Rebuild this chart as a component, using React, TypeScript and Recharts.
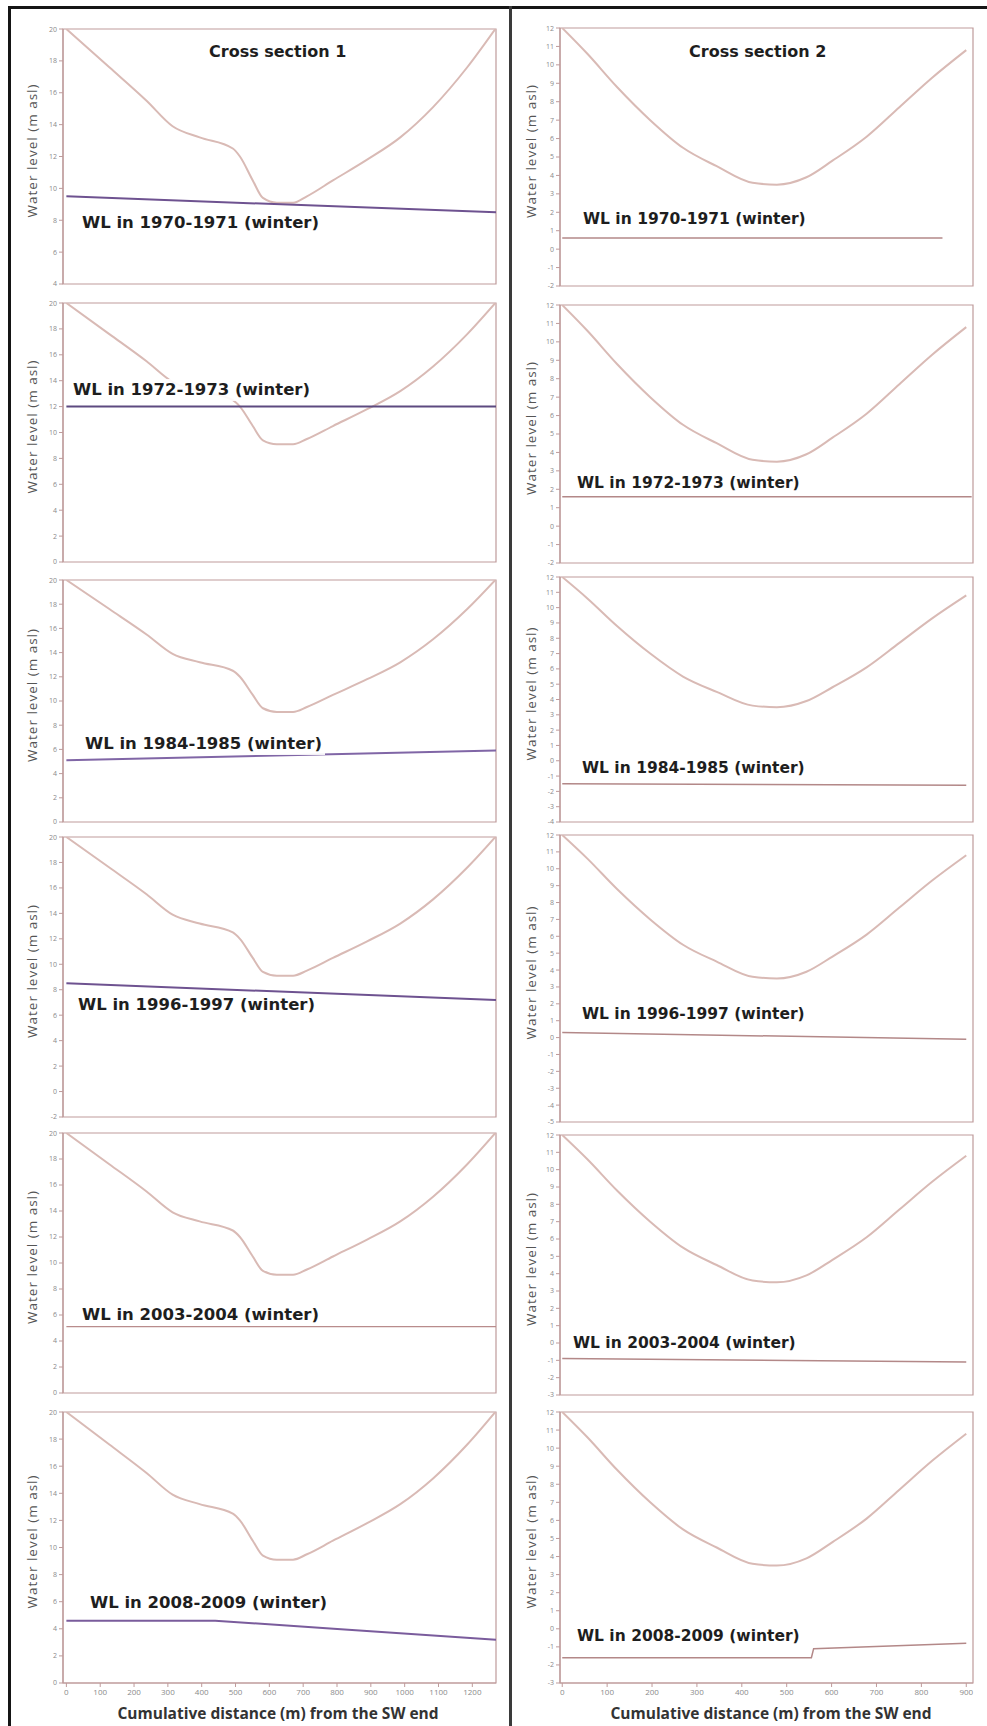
import { LineChart, Line, XAxis, YAxis, ReferenceArea } from 'recharts'

// bed profile, cross section 1 (distance in m, level in m asl)
const LEFT_DISTANCE = [0, 127, 237, 314, 394, 492, 513, 551, 581, 622, 670, 711, 788, 889, 987, 1084, 1185, 1268]
const LEFT_BED = [20, 17.6, 15.5, 13.9, 13.2, 12.5, 12.0, 10.5, 9.4, 9.1, 9.1, 9.5, 10.5, 11.8, 13.2, 15.1, 17.6, 20]

// bed profile, cross section 2
const RIGHT_DISTANCE = [0, 56, 122, 196, 269, 344, 424, 478, 544, 602, 678, 751, 824, 900]
const RIGHT_BED = [12, 10.6, 8.8, 7.0, 5.5, 4.5, 3.6, 3.5, 3.9, 4.8, 6.1, 7.7, 9.3, 10.8]

const SEASONS = ['1970-1971', '1972-1973', '1984-1985', '1996-1997', '2003-2004', '2008-2009']

// winter water level lines, one per season
const LEFT_WL_DISTANCE = [[0, 1270], [0, 1270], [0, 1270], [0, 1270], [0, 1270], [0, 440, 790, 1270]]
const LEFT_WL = [[9.5, 8.5], [12, 12], [5.1, 5.9], [8.5, 7.2], [5.1, 5.1], [4.6, 4.6, 4.0, 3.2]]
const RIGHT_WL_DISTANCE = [[0, 847], [0, 912], [0, 900], [0, 900], [0, 900], [0, 555, 560, 900]]
const RIGHT_WL = [[0.6, 0.6], [1.6, 1.6], [-1.5, -1.6], [0.3, -0.1], [-0.9, -1.1], [-1.6, -1.6, -1.1, -0.8]]

const LEFT_X_TICKS = [0, 100, 200, 300, 400, 500, 600, 700, 800, 900, 1000, 1100, 1200]
const RIGHT_X_TICKS = [0, 100, 200, 300, 400, 500, 600, 700, 800, 900]

const Y_4_20 = [4, 6, 8, 10, 12, 14, 16, 18, 20]
const Y_0_20 = [0, 2, 4, 6, 8, 10, 12, 14, 16, 18, 20]
const Y_M2_20 = [-2, 0, 2, 4, 6, 8, 10, 12, 14, 16, 18, 20]
const Y_M2_12 = [-2, -1, 0, 1, 2, 3, 4, 5, 6, 7, 8, 9, 10, 11, 12]
const Y_M4_12 = [-4, -3, -2, -1, 0, 1, 2, 3, 4, 5, 6, 7, 8, 9, 10, 11, 12]
const Y_M5_12 = [-5, -4, -3, -2, -1, 0, 1, 2, 3, 4, 5, 6, 7, 8, 9, 10, 11, 12]
const Y_M3_12 = [-3, -2, -1, 0, 1, 2, 3, 4, 5, 6, 7, 8, 9, 10, 11, 12]

const LEFT_Y_TICKS = [Y_4_20, Y_0_20, Y_0_20, Y_M2_20, Y_0_20, Y_0_20]
const RIGHT_Y_TICKS = [Y_M2_12, Y_M2_12, Y_M4_12, Y_M5_12, Y_M3_12, Y_M3_12]

// layout (px)
const LEFT_TOPS = [29, 303, 580, 837, 1133, 1412]
const LEFT_HEIGHTS = [255, 259, 242, 280, 260, 271]
const RIGHT_TOPS = [28, 305, 577, 835, 1135, 1412]
const RIGHT_HEIGHTS = [258, 258, 245, 287, 260, 271]
const LEFT_LABEL_POS = [[79, 223], [70, 390], [82, 744], [75, 1005], [79, 1315], [87, 1603]]
const RIGHT_LABEL_POS = [[580, 219], [574, 483], [579, 768], [579, 1014], [570, 1343], [574, 1636]]
const LEFT_WL_COLORS = ['#6e5290', '#5d4a80', '#8066a6', '#6e5290', '#b98c8c', '#7a5c9c']

const FRAME = '#bf9b9b'
const BED = '#d9bab5'
const PAD = 4

type PanelProps = {
  x: number
  top: number
  plotH: number
  chartW: number
  axisW: number
  rightM: number
  xDomain: [number, number]
  xTicks: number[]
  yTicks: number[]
  bedX: number[]
  bedY: number[]
  wlX: number[]
  wlY: number[]
  wlColor: string
  wlWidth: number
  showX: boolean
}

function Panel(p: PanelProps) {
  const bed = p.bedX.map((d, i) => ({ x: d, y: p.bedY[i] }))
  const wl = p.wlX.map((d, i) => ({ x: d, y: p.wlY[i] }))
  const xH = p.showX ? 20 : 0
  const yDomain: [number, number] = [p.yTicks[0], p.yTicks[p.yTicks.length - 1]]
  return (
    <div style={{ position: 'absolute', left: p.x, top: p.top - PAD }}>
      <LineChart
        width={p.chartW}
        height={p.plotH + PAD * 2 + xH}
        margin={{ top: PAD, right: p.rightM, bottom: PAD, left: 0 }}
      >
        <XAxis
          xAxisId="b" type="number" dataKey="x" domain={p.xDomain} ticks={p.xTicks}
          allowDataOverflow height={xH} stroke={FRAME} tickSize={4}
          axisLine={{ stroke: FRAME, strokeWidth: 1.2 }}
          tick={p.showX ? { fontSize: 8, fill: '#8a8a8a' } : false}
        />
        <YAxis
          yAxisId="l" type="number" domain={yDomain} ticks={p.yTicks} allowDataOverflow
          width={p.axisW} stroke={FRAME} tickSize={4} interval={0}
          axisLine={{ stroke: FRAME, strokeWidth: 1.2 }}
          tick={{ fontSize: 7, fill: '#8a8a8a' }}
          label={{ value: 'Water level (m asl)', angle: -90, position: 'center', dx: 1, dy: -6,
            style: { fontSize: 13.5, fill: '#555', letterSpacing: 1 } }}
        />
        <ReferenceArea
          xAxisId="b" yAxisId="l" x1={p.xDomain[0]} x2={p.xDomain[1]} y1={yDomain[0]} y2={yDomain[1]}
          fill="none" stroke={FRAME} strokeWidth={1.2} ifOverflow="visible"
        />
        <Line
          xAxisId="b" yAxisId="l" data={bed} dataKey="y" type="monotone"
          stroke={BED} strokeWidth={2} dot={false} isAnimationActive={false}
        />
        <Line
          xAxisId="b" yAxisId="l" data={wl} dataKey="y" type="linear"
          stroke={p.wlColor} strokeWidth={p.wlWidth} dot={false} isAnimationActive={false}
        />
      </LineChart>
    </div>
  )
}

const labelStyle = (x: number, y: number, size: number): React.CSSProperties => ({
  position: 'absolute',
  left: x,
  top: y - 11,
  fontFamily: '"DejaVu Sans", sans-serif',
  fontSize: size,
  fontWeight: 700,
  color: '#1e1e1e',
  background: 'rgba(255,255,255,0.9)',
  padding: '0 3px',
  lineHeight: '22px',
  whiteSpace: 'nowrap',
})

const titleStyle = (x: number): React.CSSProperties => ({
  position: 'absolute', left: x, top: 42, fontFamily: '"DejaVu Sans", sans-serif', fontSize: 16,
  lineHeight: '20px', fontWeight: 700, color: '#1e1e1e', background: '#fff', padding: '0 2px',
  whiteSpace: 'nowrap',
})

const axisTitleStyle = (x: number): React.CSSProperties => ({
  position: 'absolute', left: x, width: 340, top: 1702, textAlign: 'center', fontSize: 15.5,
  fontWeight: 700, color: '#333', whiteSpace: 'nowrap',
})

export default function App() {
  return (
    <div style={{ position: 'relative', width: 987, height: 1726, background: '#fff',
      fontFamily: '"Open Sans", sans-serif', overflow: 'hidden' }}>
      <style>{'body{margin:0}'}</style>

      {SEASONS.map((s, i) => (
        <Panel
          key={'l' + s}
          x={0}
          top={LEFT_TOPS[i]}
          plotH={LEFT_HEIGHTS[i]}
          chartW={500}
          axisW={63}
          rightM={4}
          xDomain={[-10, 1270]}
          xTicks={LEFT_X_TICKS}
          yTicks={LEFT_Y_TICKS[i]}
          bedX={LEFT_DISTANCE}
          bedY={LEFT_BED}
          wlX={LEFT_WL_DISTANCE[i]}
          wlY={LEFT_WL[i]}
          wlColor={LEFT_WL_COLORS[i]}
          wlWidth={i === 4 ? 1.2 : 2}
          showX={i === 5}
        />
      ))}
      {SEASONS.map((s, i) => (
        <Panel
          key={'r' + s}
          x={500}
          top={RIGHT_TOPS[i]}
          plotH={RIGHT_HEIGHTS[i]}
          chartW={487}
          axisW={60}
          rightM={14}
          xDomain={[-5, 915]}
          xTicks={RIGHT_X_TICKS}
          yTicks={RIGHT_Y_TICKS[i]}
          bedX={RIGHT_DISTANCE}
          bedY={RIGHT_BED}
          wlX={RIGHT_WL_DISTANCE[i]}
          wlY={RIGHT_WL[i]}
          wlColor="#b38888"
          wlWidth={1.5}
          showX={i === 5}
        />
      ))}

      {SEASONS.map((s, i) => (
        <div key={'tl' + s} style={labelStyle(LEFT_LABEL_POS[i][0], LEFT_LABEL_POS[i][1], 16.5)}>
          WL in {s} (winter)
        </div>
      ))}
      {SEASONS.map((s, i) => (
        <div key={'tr' + s} style={labelStyle(RIGHT_LABEL_POS[i][0], RIGHT_LABEL_POS[i][1], 15.5)}>
          WL in {s} (winter)
        </div>
      ))}

      <div style={titleStyle(207)}>Cross section 1</div>
      <div style={titleStyle(687)}>Cross section 2</div>

      <div style={axisTitleStyle(108)}>Cumulative distance (m) from the SW end</div>
      <div style={axisTitleStyle(601)}>Cumulative distance (m) from the SW end</div>

      {/* outer frame and divider */}
      <div style={{ position: 'absolute', left: 8, top: 6, width: 990, height: 1730,
        borderTop: '3px solid #151515', borderLeft: '3px solid #151515' }} />
      <div style={{ position: 'absolute', left: 509, top: 6, width: 3, height: 1730,
        background: '#3a3a3a' }} />
    </div>
  )
}
